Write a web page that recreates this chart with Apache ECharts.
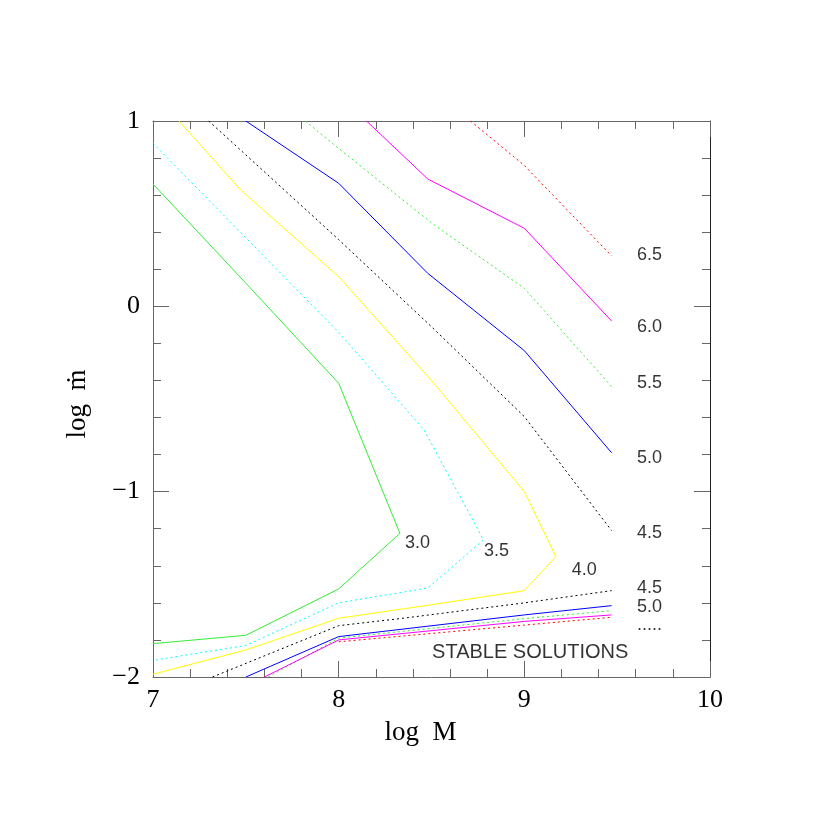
<!DOCTYPE html>
<html>
<head>
<meta charset="utf-8">
<script src="https://cdn.jsdelivr.net/npm/echarts@6/dist/echarts.min.js"></script>
<style>
  html, body { margin: 0; padding: 0; background: #fff; }
  #chart { width: 830px; height: 830px; }
</style>
</head>
<body>
<div id="chart"></div>
<script>
// contour lines, [log M, log mdot] pairs
var c30 = [[7, 0.66], [7.5, 0.125], [8, -0.415], [8.33, -1.225], [8, -1.525], [7.5, -1.775], [7, -1.82]];
var c35 = [[7, 0.88], [7.5, 0.37], [8, -0.14], [8.46, -0.667], [8.78, -1.26], [8.48, -1.52], [8, -1.60], [7.5, -1.83], [7, -1.91]];
var c40 = [[7.14, 1], [7.47, 0.63], [8, 0.16], [8.5, -0.40], [9, -1.0], [9.17, -1.35], [9, -1.534], [8.5, -1.61], [8, -1.683], [7.5, -1.854], [7, -1.985]];
var c45up = [[7.3, 1], [8, 0.36], [8.5, -0.11], [9, -0.595], [9.47, -1.21]];
var c45lo = [[7.32, -2], [8, -1.723], [8.33, -1.685], [9, -1.60], [9.47, -1.534]];
var c50up = [[7.5, 1], [8, 0.664], [8.48, 0.178], [9, -0.239], [9.47, -0.79]];
var c50lo = [[7.5, -2], [8, -1.782], [9, -1.665], [9.47, -1.615]];
var c55up = [[7.82, 1], [8, 0.852], [8.5, 0.45], [9, 0.097], [9.47, -0.433]];
var c55lo = [[7.62, -2], [8, -1.79], [9, -1.685], [9.47, -1.642]];
var c60up = [[8.15, 1], [8.48, 0.687], [9, 0.421], [9.47, -0.079]];
var c60lo = [[7.6, -2], [8, -1.80], [9, -1.70], [9.47, -1.665]];
var c65up = [[8.71, 1], [9, 0.76], [9.47, 0.272]];
var c65lo = [[8, -1.81], [9, -1.72], [9.47, -1.678]];

// annotations
var labelText = ['6.5', '6.0', '5.5', '5.0', '4.5', '4.5', '5.0', '.....', '3.0', '3.5', '4.0', 'STABLE SOLUTIONS'];
var labelX = [9.607, 9.607, 9.607, 9.607, 9.607, 9.607, 9.607, 9.607, 8.357, 8.783, 9.255, 8.503];
var labelY = [0.277, -0.113, -0.414, -0.818, -1.223, -1.521, -1.624, -1.72, -1.275, -1.32, -1.423, -1.869];

var xTicks = [7, 8, 9, 10];
var yTicks = [-2, -1, 0, 1];

var chart = echarts.init(document.getElementById('chart'));

function contour(data, color, dotted) {
  return {
    type: 'line',
    data: data,
    showSymbol: false,
    silent: true,
    animation: false,
    lineStyle: { color: color, width: 1, type: dotted ? [2, 3] : 'solid' }
  };
}

var frame = '#666';
var serif = '"Liberation Serif", "DejaVu Serif", serif';

function baseAxis(extra) {
  var a = {
    type: 'value',
    axisLine: { show: true, onZero: false, lineStyle: { color: frame, width: 1 } },
    axisTick: { show: true, inside: true, length: 16, lineStyle: { color: frame } },
    minorTick: { show: true, splitNumber: 5, length: 8, lineStyle: { color: frame } },
    splitLine: { show: false },
    minorSplitLine: { show: false }
  };
  for (var k in extra) a[k] = extra[k];
  return a;
}

var option = {
  backgroundColor: '#fff',
  animation: false,
  grid: { left: 153, top: 121, width: 557, height: 556 },
  xAxis: [
    baseAxis({
      position: 'bottom', min: xTicks[0], max: xTicks[xTicks.length - 1], interval: 1,
      name: 'log  M', nameLocation: 'middle', nameGap: 42,
      nameTextStyle: { fontFamily: serif, fontSize: 27, color: '#000', padding: [0, 22, 0, 0] },
      axisLabel: { fontFamily: serif, fontSize: 26, color: '#000', margin: 10 }
    }),
    baseAxis({
      position: 'top', min: xTicks[0], max: xTicks[xTicks.length - 1], interval: 1,
      axisLabel: { show: false }
    })
  ],
  yAxis: [
    baseAxis({
      position: 'left', min: yTicks[0], max: yTicks[yTicks.length - 1], interval: 1,
      name: 'log  \u1E41', nameLocation: 'middle', nameGap: 62, nameRotate: 90,
      nameTextStyle: { fontFamily: serif, fontSize: 27, color: '#000', padding: [0, 10, 0, 0] },
      axisLabel: {
        fontFamily: serif, fontSize: 26, color: '#000', margin: 13,
        formatter: function (v) { return String(v).replace('-', '\u2212'); }
      }
    }),
    baseAxis({
      position: 'right', min: yTicks[0], max: yTicks[yTicks.length - 1], interval: 1,
      axisLine: { show: true, onZero: false, lineStyle: { color: '#222', width: 1 } },
      axisLabel: { show: false }
    })
  ],
  series: [
    contour(c30, '#33ee33', false),
    contour(c35, '#00ffff', true),
    contour(c40, '#ffff00', false),
    contour(c45up, '#000000', true),
    contour(c45lo, '#000000', true),
    contour(c50up, '#0000ff', false),
    contour(c50lo, '#0000ff', false),
    contour(c55up, '#33ee33', true),
    contour(c55lo, '#33ee33', true),
    contour(c60up, '#ff00ff', false),
    contour(c60lo, '#ff00ff', false),
    contour(c65up, '#ff0000', true),
    contour(c65lo, '#ff0000', true),
    {
      type: 'scatter',
      silent: true,
      symbolSize: 0,
      data: labelText.map(function (t, i) {
        var item = { name: t, value: [labelX[i], labelY[i]] };
        if (t.length > 6) item.label = { fontSize: 20 };
        return item;
      }),
      label: {
        show: true,
        position: 'right',
        distance: 0,
        formatter: '{b}',
        fontFamily: '"Liberation Sans", Arial, sans-serif',
        fontSize: 18,
        color: '#000'
      }
    }
  ]
};

chart.setOption(option);
</script>
</body>
</html>
